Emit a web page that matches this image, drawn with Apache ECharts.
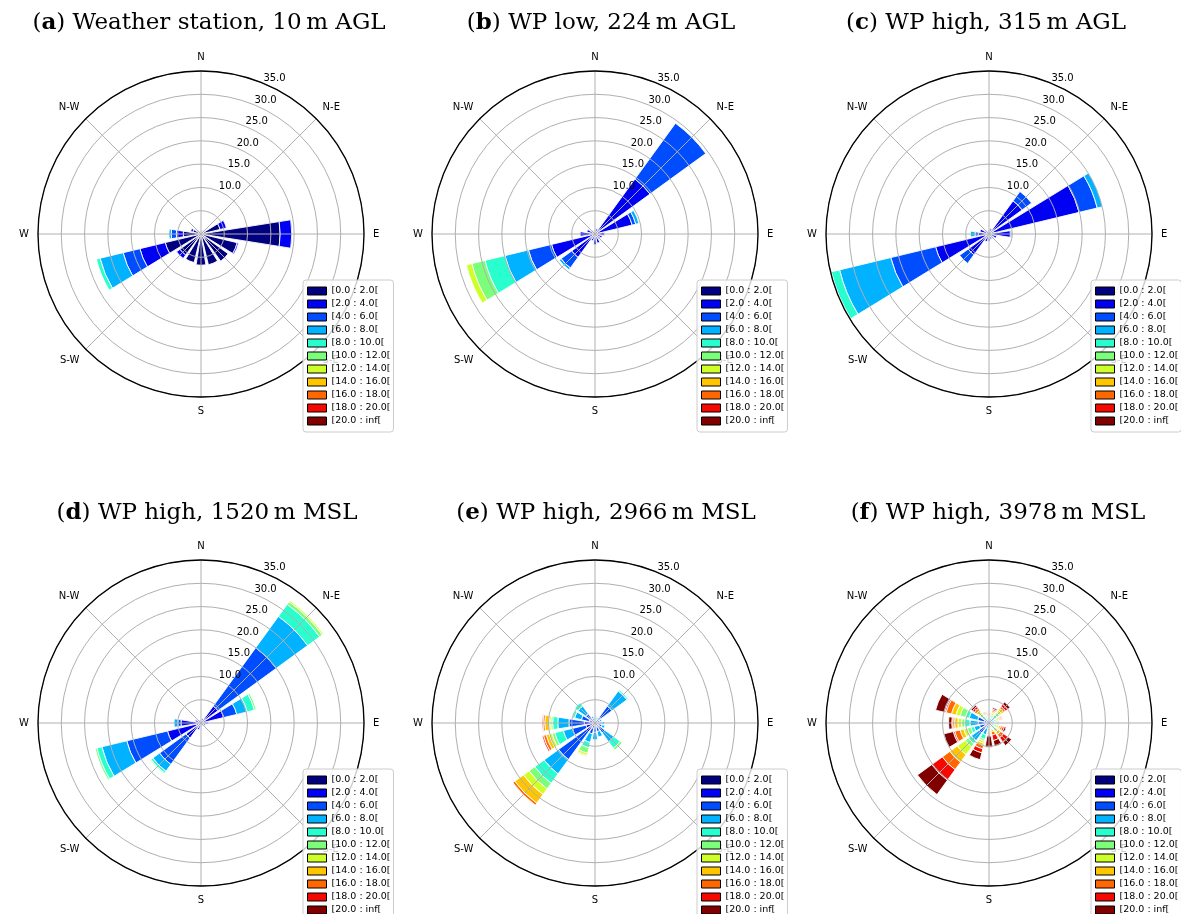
<!DOCTYPE html>
<html><head><meta charset="utf-8">
<script src="https://cdn.jsdelivr.net/npm/echarts@6/dist/echarts.min.js"></script>
<style>html,body{margin:0;padding:0;background:#fff}#c{width:1181px;height:914px}</style>
</head><body><div id="c"></div>
<script>
// ---- data ----
const directions = ['N','NNE','NE','ENE','E','ESE','SE','SSE','S','SSW','SW','WSW','W','WNW','NW','NNW'];
const compassLabels = ['N','N-E','E','S-E','S','S-W','W','N-W'];
const speedBins = ['[0.0 : 2.0[','[2.0 : 4.0[','[4.0 : 6.0[','[6.0 : 8.0[','[8.0 : 10.0[','[10.0 : 12.0[','[12.0 : 14.0[','[14.0 : 16.0[','[16.0 : 18.0[','[18.0 : 20.0[','[20.0 : inf['];
const binColors = ['#000080','#0000f3','#004dff','#00b2ff','#29ffce','#7bff7b','#ceff29','#ffc600','#ff6800','#f30900','#800000'];
const radialTicks = [10, 15, 20, 25, 30, 35];

// frequency (%) per direction (rows, N clockwise) and speed bin (columns)
const weatherStation10m = [
  [0.6],[0.8],[1.1],[4.2,1.4],[17.0,2.5],[8.0,0.3],[7.2],[6.8],
  [6.7],[6.3],[5.6,0.9],[7.9,5.6,3.7,5.1,0.8],[3.8,1.5,1.1,0.5],[1.8,0.5],[0.9],[0.6]
];
const wpLow224m = [
  [0.5,0.3],[0.6,0.6],[1.0,13.6,14.8],[0.5,7.7,0.8,0.7],[0.8,1.2],[0.6,1.0],[0.6,0.8],[0.7,1.3],
  [0.8,1.5],[0.5,1.0],[0.5,5.7,2.8,0.5],[0.5,9.1,5.1,5.2,4.4,2.9,1.2],[1.0,2.2],[0.6,1.2],[0.4,0.6],[0.4,0.4]
];
const wpHigh315m = [
  [0.3,0.5],[0.4,0.8],[0.8,8.0,2.5],[1.0,18.9,4.0,1.2],[0.6,4.0,0.3],[0.5,1.2],[0.4,0.8],[0.4,0.8],
  [0.5,1.0],[0.5,1.2],[0.5,5.0,2.3],[0.8,11.0,9.9,11.3,1.8],[0.5,1.8,0.7,1.0],[0.5,1.5],[0.3,0.6],[0.3,0.4]
];
const wpHigh1520m = [
  [0.3,0.3],[0.4,0.6],[0.5,4.0,15.5,8.3,3.2,0.7,0.3],[0.5,4.5,2.9,2.3,1.6,0.4],[0.5,1.0],[0.4,0.6],[0.3,0.5],[0.3,0.4],
  [0.3,0.4],[0.5,1.0],[0.5,3.5,7.0,1.8,0.5,0.2],[1.0,6.4,9.0,5.5,1.1,0.4],[0.5,3.8,0.7,0.8],[0.5,0.8],[0.3,0.4],[0.3,0.3]
];
const wpHigh2966m = [
  [0.2,0.3,0.4,0.4,0.2],[0.2,0.3,0.4,0.4,0.2],[0.3,1.2,3.0,4.0,0.3],[0.2,0.4,0.5,0.4],[0.3,0.5,0.7,0.5],[0.3,0.5,0.8,0.6],
  [0.3,0.8,1.5,2.4,1.7,0.5],[0.3,0.6,1.0,1.2],[0.4,0.6,1.0,1.6],[0.4,0.8,1.2,1.9,1.2,1.2,0.5,0.2],
  [0.5,1.8,7.4,3.8,2.5,1.5,1.5,2.3,0.5],[0.5,1.5,3.0,2.0,1.9,0.6,0.6,0.7,0.6,0.3],
  [0.5,1.8,3.3,2.4,1.1,0.4,0.4,0.9,0.4,0.2],[0.3,1.0,1.7,1.5,0.5],[0.3,0.7,1.5,2.0,0.9],[0.2,0.4,0.5,0.4]
];
const wpHigh3978m = [
  [0.1,0.2,0.2,0.3,0.2,0.2,0.2,0.2,0.2,0.1,0.1],
  [0.1,0.2,0.3,0.4,0.4,0.4,0.4,0.3,0.3,0.3,0.3],
  [0.2,0.3,0.5,0.6,0.6,0.6,0.6,0.5,0.5,0.6,0.6],
  [0.1,0.2,0.4,0.5,0.4,0.3,0.3,0.3,0.2,0.2,0.1],
  [0.1,0.2,0.3,0.3,0.2,0.2,0.2,0.2,0.1,0.1,0.1],
  [0.1,0.2,0.3,0.4,0.4,0.4,0.4,0.4,0.4,0.4,0.4],
  [0.1,0.2,0.4,0.5,0.4,0.4,0.5,0.6,0.8,1.2,0.9],
  [0.1,0.2,0.3,0.3,0.2,0.2,0.3,0.4,0.7,1.2,1.3],
  [0.1,0.2,0.3,0.4,0.3,0.3,0.3,0.3,0.3,0.3,2.4],
  [0.2,0.4,0.6,1.4,1.0,0.4,0.5,0.5,0.7,0.9,1.5],
  [0.3,0.7,1.6,2.1,0.8,0.8,2.1,2.0,2.0,2.8,3.8],
  [0.3,0.6,1.2,1.2,0.7,0.8,0.8,0.8,1.2,0.3,2.1],
  [0.3,0.7,1.3,1.8,1.1,0.7,0.8,0.7,0.4,0.2,0.7],
  [0.3,0.7,1.5,1.9,0.8,1.2,0.9,1.0,1.2,0.3,2.0],
  [0.2,0.3,0.4,0.5,0.5,0.5,0.5,0.5,0.5,0.5,0.4],
  [0.1,0.2,0.3,0.3,0.3,0.3,0.3,0.2,0.2,0.2,0.1]
];

const panelLetters = ['a','b','c','d','e','f'];
const panelTitles = [' Weather station, 10\u2009m AGL',' WP low, 224\u2009m AGL',' WP high, 315\u2009m AGL',
                     ' WP high, 1520\u2009m MSL',' WP high, 2966\u2009m MSL',' WP high, 3978\u2009m MSL'];
const panelData = [weatherStation10m, wpLow224m, wpHigh315m, wpHigh1520m, wpHigh2966m, wpHigh3978m];

// ---- layout ----
const centers = [[201,234],[595,234],[989,234],[201,723],[595,723],[989,723]];
const titlePos = [[209,23],[601,23],[986,23],[207,513],[606,513],[998,513]];
const R = 163, RMAX = 35;
const FONT = 'DejaVu Sans';

const polar = [], angleAxis = [], radiusAxis = [], series = [], legend = [], title = [];
const N = panelData.length;
for (let i = 0; i < N; i++) {
  const c = centers[i];
  // bars polar (index i)
  polar[i] = {center: c, radius: R};
  angleAxis[i] = {polarIndex: i, type: 'category', data: directions, startAngle: 90 + 180 / directions.length,
    clockwise: true, boundaryGap: true, axisLine: {show: false}, axisTick: {show: false},
    axisLabel: {show: false}, splitLine: {show: false}};
  radiusAxis[i] = {polarIndex: i, type: 'value', min: 0, max: RMAX, axisLine: {show: false},
    axisTick: {show: false}, axisLabel: {show: false}, splitLine: {show: false}};
  // grid polar (index N+i)
  polar[N + i] = {center: c, radius: R};
  angleAxis[N + i] = {polarIndex: N + i, type: 'value', min: 0, max: 360, interval: 45, startAngle: 90,
    clockwise: true, z: 11,
    axisLine: {show: true, lineStyle: {color: '#000', width: 1.3}},
    axisTick: {show: false},
    axisLabel: {show: true, margin: 9, color: '#000', fontFamily: FONT, fontSize: 10,
      formatter: v => v >= 360 ? '' : compassLabels[Math.round(v / 45)]},
    splitLine: {show: true, lineStyle: {color: '#b0b0b0', width: 1}}};
  radiusAxis[N + i] = {polarIndex: N + i, type: 'value', min: 0, max: RMAX, interval: 5, z: 10,
    axisLine: {show: false}, axisTick: {show: false}, axisLabel: {show: false},
    splitLine: {show: true, lineStyle: {color: '#b0b0b0', width: 1}}};
  // label polar (index 2N+i): radius labels along 67.5 deg
  polar[2 * N + i] = {center: c, radius: R};
  angleAxis[2 * N + i] = {polarIndex: 2 * N + i, type: 'value', min: 0, max: 360, startAngle: 67.5, show: false};
  radiusAxis[2 * N + i] = {polarIndex: 2 * N + i, type: 'value', min: 0, max: RMAX, interval: 5, z: 12,
    axisLine: {show: false}, axisTick: {show: false}, splitLine: {show: false},
    axisLabel: {show: true, margin: 0, align: 'left', verticalAlign: 'bottom', color: '#000',
      fontFamily: FONT, fontSize: 10,
      formatter: v => radialTicks.indexOf(v) >= 0 ? v.toFixed(1) : ''}};

  const rows = panelData[i];
  speedBins.forEach((name, b) => {
    series.push({type: 'bar', coordinateSystem: 'polar', polarIndex: i, stack: 'rose' + i, name,
      data: rows.map(r => (r[b] ? r[b] : '-')),
      barCategoryGap: '20%', silent: true,
      itemStyle: {color: binColors[b], borderColor: '#ffffff', borderWidth: 0.9}});
  });

  legend.push({data: speedBins, orient: 'vertical', left: c[0] + 102, top: c[1] + 46, height: 170,
    icon: 'rect', itemWidth: 19, itemHeight: 8, itemGap: 1, selectedMode: false,
    padding: [5, 3, 5, 4], backgroundColor: 'rgba(255,255,255,0.8)', borderColor: '#cccccc',
    borderWidth: 1, borderRadius: 3, z: 20,
    itemStyle: {borderColor: '#000000', borderWidth: 1},
    textStyle: {fontFamily: FONT, fontSize: 9.5, color: '#000', lineHeight: 12}});

  title.push({text: '(' + '{b|' + panelLetters[i] + '}' + ')' + panelTitles[i],
    left: titlePos[i][0], top: titlePos[i][1], textAlign: 'center', textVerticalAlign: 'middle', padding: 0,
    textStyle: {fontFamily: 'DejaVu Serif', fontSize: 23, fontWeight: 'normal', color: '#000',
      rich: {b: {fontFamily: 'DejaVu Serif', fontSize: 23, fontWeight: 'bold', color: '#000'}}}});
}

const chart = echarts.init(document.getElementById('c'), null, {renderer: 'canvas'});
chart.setOption({animation: false, backgroundColor: '#fff', title, legend, polar, angleAxis, radiusAxis, series});
</script></body></html>
